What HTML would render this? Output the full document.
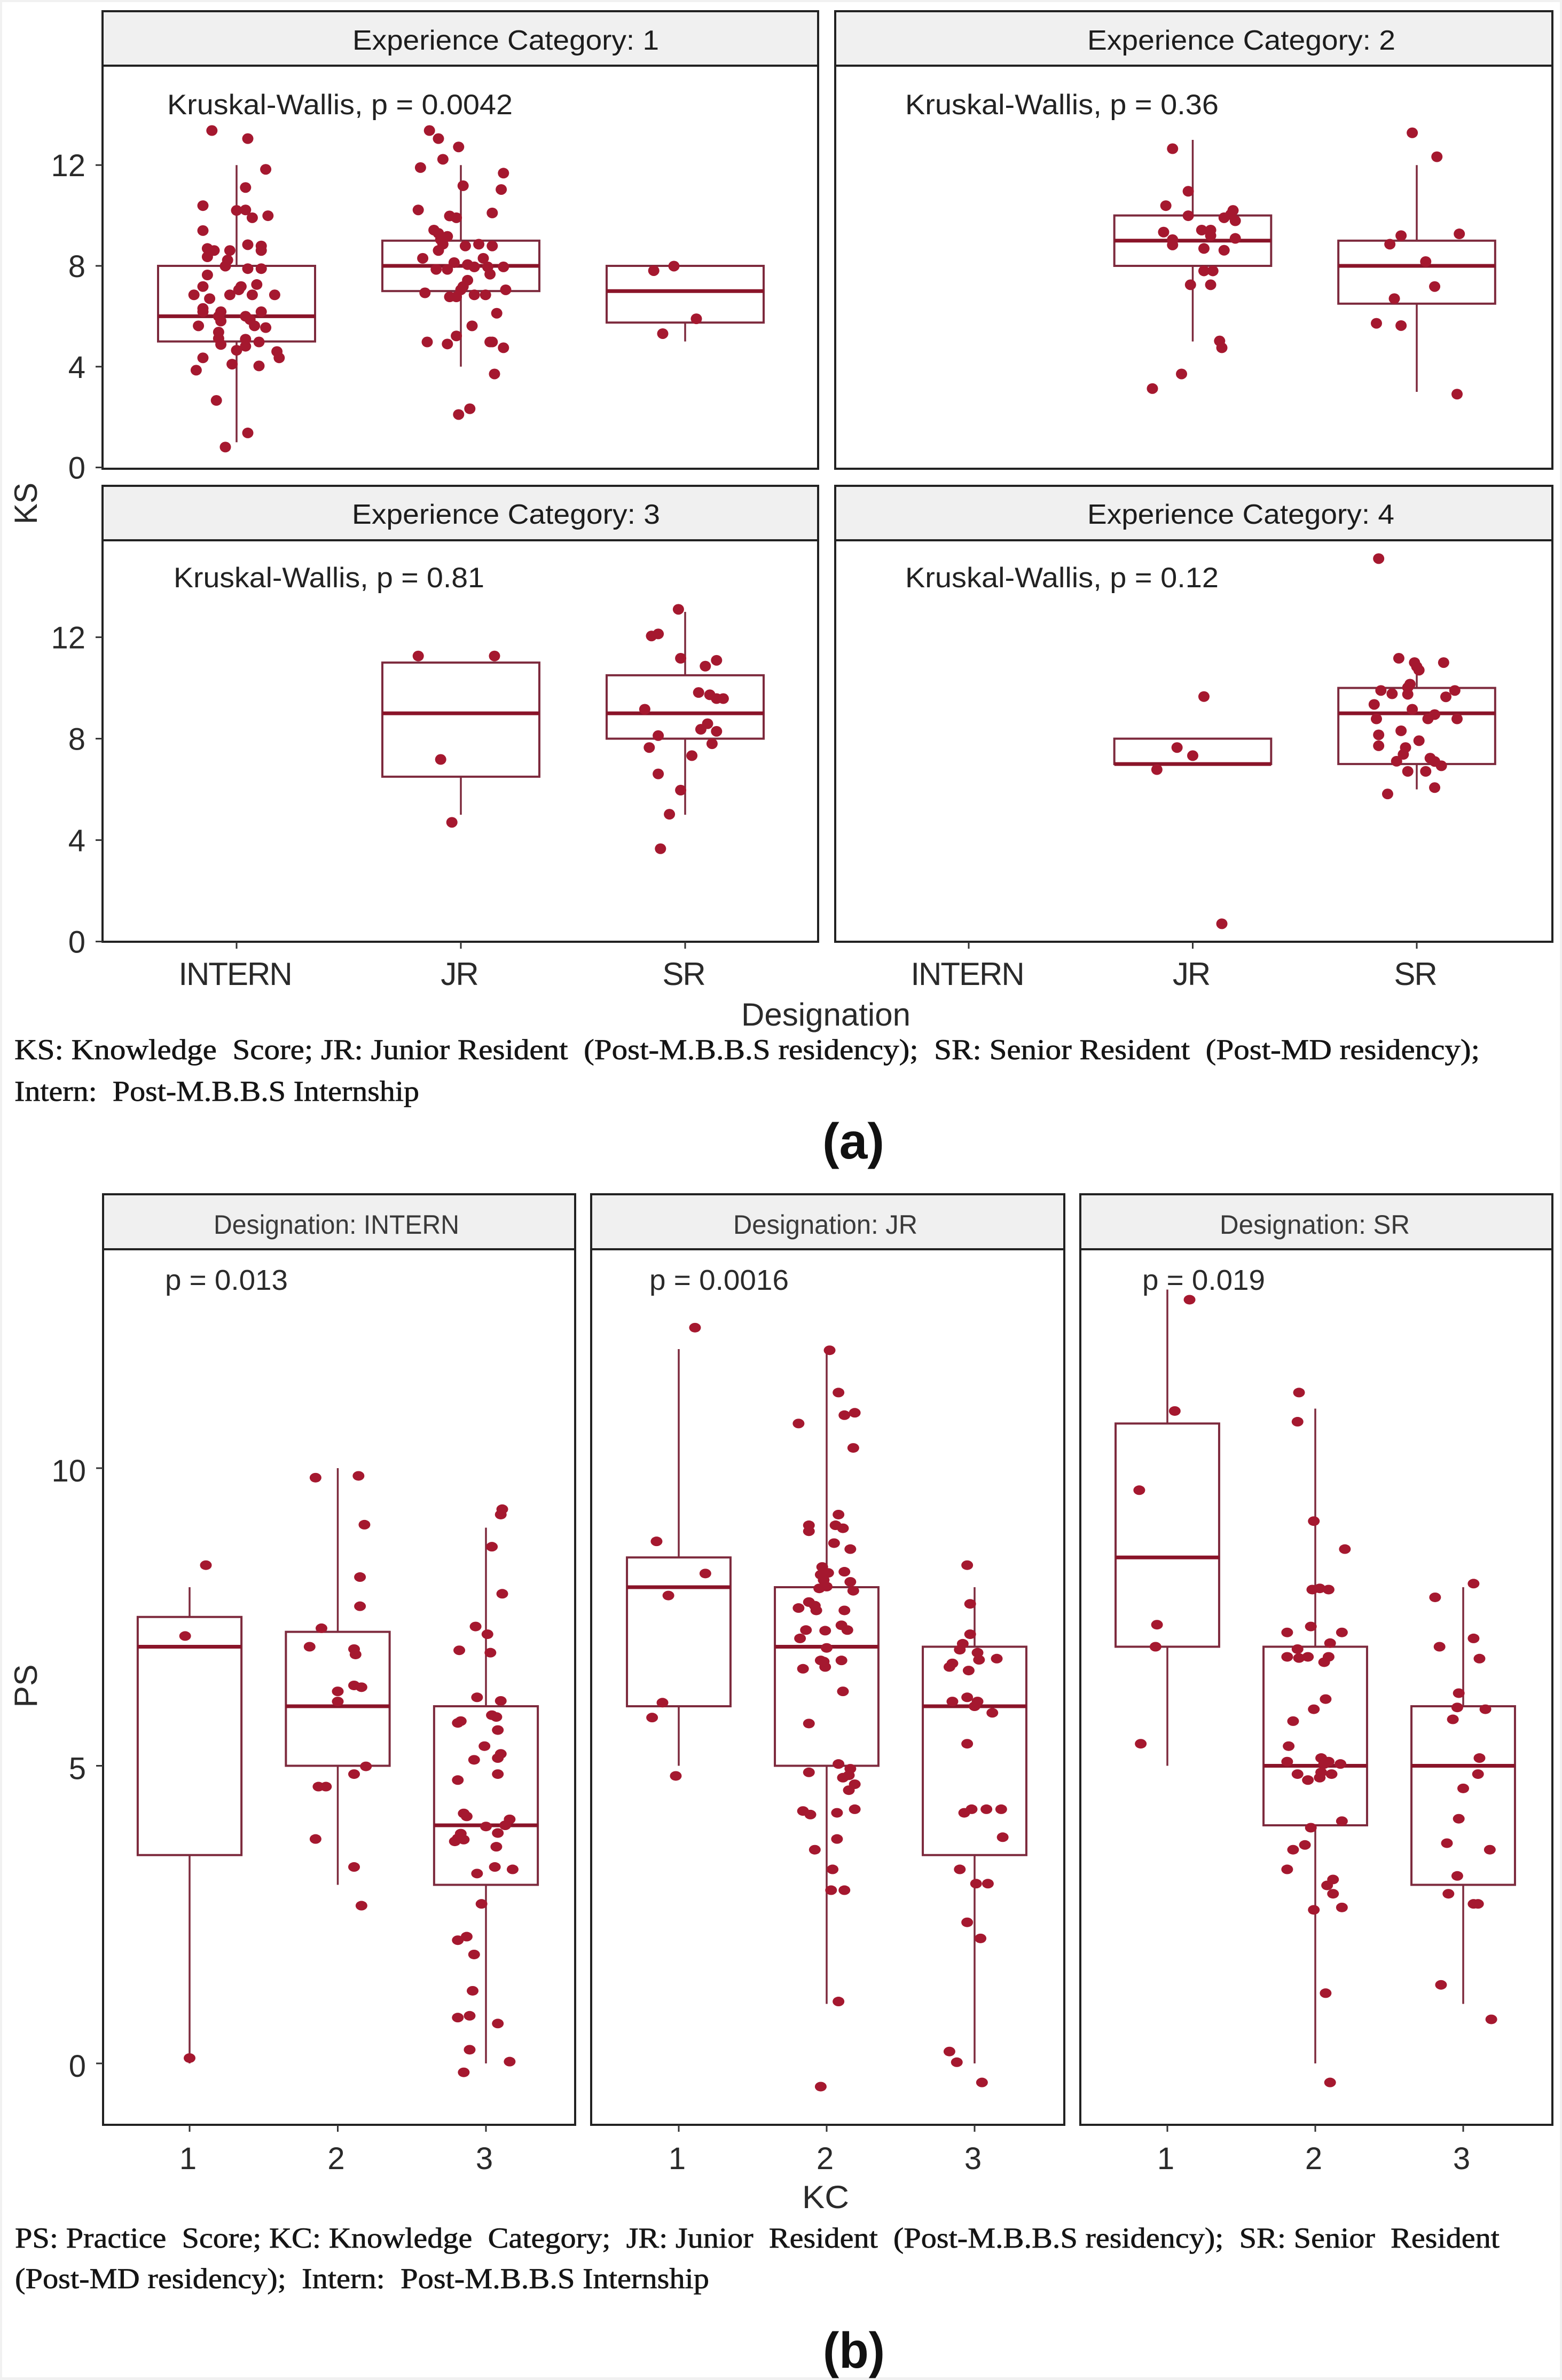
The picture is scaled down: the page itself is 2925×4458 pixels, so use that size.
<!DOCTYPE html>
<html lang="en">
<head>
<meta charset="utf-8">
<title>Knowledge and practice score box plots</title>
<style>
html,body{margin:0;padding:0;background:#fff}
svg{display:block}
text{font-family:"Liberation Sans",sans-serif;fill:#222;white-space:pre}
.strip-a{font-size:52px;fill:#1c1c1c}
.note-a{font-size:53px;fill:#222}
.strip-b{font-size:50px;fill:#3a3a3a}
.note-b{font-size:54px;fill:#2a2a2a}
.axis-title{font-size:60px;fill:#2a2a2a}
.caption{font-family:"Liberation Serif",serif;font-size:54px;fill:#151515;stroke:#151515;stroke-width:.7}
.sub{font-size:95px;font-weight:bold;fill:#111}
.tick-label{font-size:58px;fill:#2a2a2a}
.cat-label{font-size:60px;fill:#2a2a2a;letter-spacing:-2px}
.frame{fill:none;stroke:#222;stroke-width:4}
.strip{fill:#f0f0f0;stroke:#222;stroke-width:4}
</style>
</head>
<body>
<svg id="chart" xmlns="http://www.w3.org/2000/svg" width="2925" height="4458" viewBox="0 0 2925 4458">
  <rect x="0" y="0" width="2925" height="4458" fill="#f1f1f1"/>
  <rect x="4" y="4" width="2917" height="4449" fill="#ffffff"/>

  <g>
    <rect class="frame" x="192" y="123" width="1340" height="755"/>
    <rect class="strip" x="192" y="21" width="1340" height="102"/>
    <rect class="frame" x="1564" y="123" width="1343" height="755"/>
    <rect class="strip" x="1564" y="21" width="1343" height="102"/>
    <rect class="frame" x="192" y="1012" width="1340" height="752"/>
    <rect class="strip" x="192" y="910" width="1340" height="102"/>
    <rect class="frame" x="1564" y="1012" width="1343" height="752"/>
    <rect class="strip" x="1564" y="910" width="1343" height="102"/>
  </g>
  <g>
    <rect class="frame" x="193" y="2340" width="884" height="1640"/>
    <rect class="strip" x="193" y="2237" width="884" height="103"/>
    <rect class="frame" x="1107" y="2340" width="886" height="1640"/>
    <rect class="strip" x="1107" y="2237" width="886" height="103"/>
    <rect class="frame" x="2023" y="2340" width="884" height="1640"/>
    <rect class="strip" x="2023" y="2237" width="884" height="103"/>
  </g>

  <g id="marks"></g>

  <text class="strip-a" x="660" y="93" textLength="574" lengthAdjust="spacingAndGlyphs">Experience Category: 1</text>
  <text class="strip-a" x="2036" y="93" textLength="577" lengthAdjust="spacingAndGlyphs">Experience Category: 2</text>
  <text class="strip-a" x="659" y="981" textLength="577" lengthAdjust="spacingAndGlyphs">Experience Category: 3</text>
  <text class="strip-a" x="2036" y="981" textLength="575" lengthAdjust="spacingAndGlyphs">Experience Category: 4</text>
  <text class="note-a" x="313" y="214" textLength="647" lengthAdjust="spacingAndGlyphs">Kruskal-Wallis, p = 0.0042</text>
  <text class="note-a" x="1695" y="214" textLength="587" lengthAdjust="spacingAndGlyphs">Kruskal-Wallis, p = 0.36</text>
  <text class="note-a" x="325" y="1100" textLength="582" lengthAdjust="spacingAndGlyphs">Kruskal-Wallis, p = 0.81</text>
  <text class="note-a" x="1695" y="1100" textLength="587" lengthAdjust="spacingAndGlyphs">Kruskal-Wallis, p = 0.12</text>

  <text class="axis-title" transform="translate(69,943) rotate(-90)" text-anchor="middle" textLength="78" lengthAdjust="spacingAndGlyphs">KS</text>
  <text class="axis-title" x="1388" y="1921" textLength="317" lengthAdjust="spacingAndGlyphs">Designation</text>
  <text class="caption" x="27" y="1984" textLength="2744" lengthAdjust="spacingAndGlyphs">KS: Knowledge  Score; JR: Junior Resident  (Post-M.B.B.S residency);  SR: Senior Resident  (Post-MD residency);</text>
  <text class="caption" x="27" y="2062" textLength="758" lengthAdjust="spacingAndGlyphs">Intern:  Post-M.B.B.S Internship</text>
  <text class="sub" x="1540" y="2170" textLength="116" lengthAdjust="spacingAndGlyphs">(a)</text>

  <text class="strip-b" x="400" y="2311" textLength="460" lengthAdjust="spacingAndGlyphs">Designation: INTERN</text>
  <text class="strip-b" x="1373" y="2311" textLength="345" lengthAdjust="spacingAndGlyphs">Designation: JR</text>
  <text class="strip-b" x="2284" y="2311" textLength="356" lengthAdjust="spacingAndGlyphs">Designation: SR</text>
  <text class="note-b" x="309" y="2416" textLength="230" lengthAdjust="spacingAndGlyphs">p = 0.013</text>
  <text class="note-b" x="1216" y="2416" textLength="261" lengthAdjust="spacingAndGlyphs">p = 0.0016</text>
  <text class="note-b" x="2139" y="2416" textLength="230" lengthAdjust="spacingAndGlyphs">p = 0.019</text>

  <text class="axis-title" transform="translate(69,3158) rotate(-90)" text-anchor="middle" textLength="81" lengthAdjust="spacingAndGlyphs">PS</text>
  <text class="axis-title" x="1502" y="4136" textLength="88" lengthAdjust="spacingAndGlyphs">KC</text>
  <text class="caption" x="28" y="4210" textLength="2780" lengthAdjust="spacingAndGlyphs">PS: Practice  Score; KC: Knowledge  Category;  JR: Junior  Resident  (Post-M.B.B.S residency);  SR: Senior  Resident</text>
  <text class="caption" x="28" y="4286" textLength="1300" lengthAdjust="spacingAndGlyphs">(Post-MD residency);  Intern:  Post-M.B.B.S Internship</text>
  <text class="sub" x="1541" y="4435" textLength="116" lengthAdjust="spacingAndGlyphs">(b)</text>
</svg>

<script>
// Axis tick values and category labels
const ksTicks = [0, 4, 8, 12];
const psTicks = [0, 5, 10];
const designationLabels = ['INTERN', 'JR', 'SR'];
const kcLabels = ['1', '2', '3'];

// Box statistics: [lower whisker, Q1, median, Q3, upper whisker]
const exp1InternBox = [1, 5, 6, 8, 12];
const exp1JrBox = [4, 7, 8, 9, 12];
const exp1SrBox = [5, 5.75, 7, 8, 8];
const exp2JrBox = [5, 8, 9, 10, 13];
const exp2SrBox = [3, 6.5, 8, 9, 12];
const exp3JrBox = [5, 6.5, 9, 11, 11];
const exp3SrBox = [5, 8, 9, 10.5, 13];
const exp4JrBox = [7, 7, 7, 8, 8];
const exp4SrBox = [6, 7, 9, 10, 10.7];
const internK1Box = [0, 3.5, 7, 7.5, 8];
const internK2Box = [3, 5, 6, 7.25, 10];
const internK3Box = [0, 3, 4, 6, 9];
const jrK1Box = [5, 6, 8, 8.5, 12];
const jrK2Box = [1, 5, 7, 8, 12];
const jrK3Box = [0, 3.5, 6, 7, 8];
const srK1Box = [5, 7, 8.5, 10.75, 13];
const srK2Box = [0, 4, 5, 7, 11];
const srK3Box = [1, 3, 5, 6, 8];

// Observations: [horizontal jitter in category units, score]
const exp1InternPoints = [[-.11,13.37],[.05,13.05],[.13,11.83],[.04,11.11],[-.15,10.39],[0,10.2],[.04,10.22],[.07,9.91],[.14,9.99],[-.15,9.4],[.05,8.84],[.11,8.79],[.11,8.61],[-.13,8.69],[-.1,8.61],[-.03,8.61],[-.13,8.36],[-.04,8.23],[-.05,7.99],[.05,7.89],[.11,7.89],[-.13,7.64],[-.15,7.18],[.09,7.26],[.02,7.18],[.01,7.05],[-.03,6.85],[-.19,6.85],[.07,6.85],[.17,6.85],[-.12,6.7],[-.15,6.31],[-.15,6.18],[-.07,6.18],[.11,6.18],[-.08,6],[.04,6],[.06,5.87],[-.07,5.81],[-.17,5.62],[.08,5.62],[.13,5.55],[-.08,5.37],[-.08,5.12],[.04,5.09],[.1,4.98],[-.07,4.88],[.04,4.81],[0,4.65],[.18,4.6],[.19,4.35],[-.15,4.35],[-.02,4.1],[.1,4.03],[-.18,3.86],[-.09,2.66],[.05,1.37],[-.05,.81]];
const exp1JrPoints = [[-.14,13.37],[-.1,13.05],[-.01,12.72],[-.08,12.23],[-.18,11.9],[.19,11.68],[.01,11.18],[.18,11.03],[-.19,10.22],[.14,10.1],[-.05,9.98],[-.02,9.91],[-.12,9.42],[-.1,9.29],[-.06,9.17],[-.09,9.04],[-.08,8.86],[.02,8.79],[.08,8.86],[.14,8.79],[-.1,8.61],[-.17,8.3],[.1,8.3],[-.03,8.13],[.03,8.05],[.06,7.96],[.12,7.96],[.19,7.96],[-.11,7.86],[-.06,7.86],[.13,7.67],[.03,7.43],[.01,7.18],[0,7.05],[.2,7.05],[-.16,6.93],[.06,6.85],[.11,6.85],[-.05,6.77],[-.02,6.77],[.16,6.12],[.05,5.62],[-.02,5.22],[-.15,4.98],[-.06,4.9],[.13,4.98],[.14,4.98],[.19,4.75],[.15,3.71],[.04,2.33],[-.01,2.1]];
const exp1SrPoints = [[-.14,7.81],[-.05,7.99],[.05,5.9],[-.1,5.31]];
const exp2JrPoints = [[-.09,12.65],[-.02,10.96],[-.12,10.39],[-.02,9.99],[.18,10.2],[.17,10.04],[.14,9.91],[.19,9.79],[-.13,9.34],[.04,9.42],[.08,9.42],[.08,9.2],[-.09,9.04],[.19,9.09],[-.09,8.83],[.05,8.69],[.14,8.62],[.05,7.8],[.09,7.8],[-.01,7.25],[.08,7.25],[.12,5.02],[.13,4.75],[-.05,3.71],[-.18,3.13]];
const exp2SrPoints = [[-.02,13.28],[.09,12.33],[-.07,9.2],[.19,9.27],[-.12,8.86],[.04,8.17],[.08,7.18],[-.1,6.7],[-.18,5.72],[-.07,5.63],[.18,2.91]];
const exp3JrPoints = [[-.19,11.26],[.15,11.26],[-.09,7.18],[-.04,4.7]];
const exp3SrPoints = [[-.03,13.1],[-.15,12.05],[-.12,12.13],[-.02,11.17],[.14,11.09],[.09,10.86],[.06,9.82],[.11,9.73],[.14,9.58],[.17,9.58],[-.18,9.16],[.1,8.59],[.07,8.37],[.14,8.29],[-.12,8.12],[-.16,7.65],[.12,7.8],[.03,7.33],[-.12,6.61],[-.02,5.97],[-.07,5.02],[-.11,3.66]];
const exp4JrPoints = [[.05,9.66],[-.07,7.65],[0,7.33],[-.16,6.78],[.13,.7]];
const exp4SrPoints = [[-.17,15.1],[-.08,11.17],[.12,11],[-.01,11],[0,10.84],[.01,10.7],[-.03,10.15],[-.04,10.02],[-.04,9.75],[-.16,9.9],[-.11,9.77],[.17,9.9],[.13,9.65],[-.19,9.35],[-.02,9.16],[.08,8.95],[.05,8.78],[-.18,8.78],[.18,8.78],[-.07,8.31],[-.17,8.15],[-.17,7.72],[.01,7.92],[-.05,7.65],[-.06,7.38],[-.09,7.11],[.06,7.23],[.08,7.1],[.11,6.93],[-.04,6.71],[.04,6.71],[.08,6.07],[-.13,5.82]];
const internK1Points = [[.11,8.37],[-.03,7.18],[0,.09]];
const internK2Points = [[-.15,9.84],[.14,9.87],[.18,9.05],[.15,8.17],[.15,7.68],[-.11,7.31],[-.19,7],[.11,6.96],[.12,6.87],[0,6.25],[.11,6.35],[.16,6.32],[0,6.08],[.19,4.99],[.11,4.86],[-.13,4.65],[-.08,4.65],[-.15,3.77],[.11,3.3],[.16,2.65]];
const internK3Points = [[.11,9.31],[.1,9.22],[.04,8.68],[.11,7.89],[-.07,7.34],[.01,7.21],[-.18,6.94],[.03,6.9],[-.06,6.15],[.1,6.09],[.04,5.85],[.07,5.82],[-.17,5.75],[-.19,5.72],[.08,5.6],[-.01,5.33],[.1,5.2],[.08,5.13],[-.08,5.1],[.08,4.86],[-.19,4.76],[-.15,4.2],[-.13,4.15],[.16,4.1],[.13,4],[0,3.98],[.08,3.87],[-.17,3.86],[-.19,3.78],[-.15,3.76],[-.21,3.73],[.07,3.64],[.06,3.3],[.18,3.26],[-.06,3.19],[-.03,2.68],[-.19,2.07],[-.13,2.13],[-.08,1.83],[-.09,1.22],[-.19,.77],[-.11,.8],[.08,.67],[-.11,.23],[.16,.03],[-.15,-.15]];
const jrK1Points = [[.11,12.36],[-.15,8.77],[.18,8.23],[-.07,7.86],[-.11,6.06],[-.18,5.81],[-.02,4.83]];
const jrK2Points = [[.02,11.98],[.08,11.27],[-.19,10.75],[.12,10.89],[.19,10.93],[.18,10.34],[.08,9.22],[-.12,9.04],[-.12,8.94],[.06,9.04],[.11,8.99],[.05,8.74],[.16,8.64],[-.03,8.34],[.01,8.24],[-.04,8.21],[.12,8.26],[-.02,8.12],[.16,8.09],[0,8.01],[-.05,7.98],[.18,7.94],[-.12,7.75],[-.19,7.65],[-.08,7.69],[-.07,7.61],[.12,7.61],[.1,7.36],[.14,7.28],[-.14,7.28],[-.01,7.27],[-.18,7.14],[0,6.98],[-.04,6.77],[-.02,6.75],[-.01,6.66],[.1,6.77],[-.16,6.63],[.11,6.25],[-.12,5.71],[.08,5.03],[.16,4.95],[-.12,4.89],[.15,4.84],[.11,4.8],[.19,4.69],[.15,4.59],[.19,4.27],[-.16,4.24],[-.11,4.18],[.07,4.21],[.07,3.77],[-.08,3.59],[.04,3.26],[.03,2.91],[.12,2.91],[.08,1.04],[-.04,-.39]];
const jrK3Points = [[-.05,8.37],[-.03,7.72],[-.03,7.21],[-.08,7.05],[-.1,6.95],[.02,6.9],[.03,6.78],[.15,6.8],[-.15,6.72],[-.17,6.66],[-.04,6.6],[-.15,6.08],[-.05,6.15],[.02,6.08],[0,6],[.12,5.89],[-.05,5.37],[-.02,4.27],[-.07,4.21],[.08,4.27],[.18,4.27],[.19,3.8],[-.1,3.26],[.01,3.02],[.09,3.02],[-.05,2.37],[.04,2.1],[-.17,.2],[-.12,.02],[.05,-.32]];
const srK1Points = [[.15,12.83],[.05,10.96],[-.19,9.63],[-.07,7.37],[-.08,7],[-.18,5.37]];
const srK2Points = [[-.11,11.27],[-.12,10.78],[-.01,9.11],[.2,8.64],[-.02,7.96],[.03,7.98],[.09,7.96],[-.03,7.34],[-.19,7.24],[.18,7.24],[.1,7.06],[-.12,6.96],[-.19,6.83],[-.11,6.81],[-.05,6.83],[.09,6.83],[.06,6.74],[.07,6.12],[-.01,5.95],[-.15,5.75],[-.18,5.33],[-.19,5.07],[.04,5.13],[.09,5.07],[.17,5.03],[.06,5.03],[.04,4.89],[.11,4.86],[-.12,4.86],[.03,4.8],[-.05,4.76],[-.03,3.96],[.18,4.07],[-.07,3.67],[-.15,3.59],[-.19,3.26],[.12,3.09],[.08,2.99],[.12,2.85],[.18,2.62],[-.01,2.58],[.07,1.18],[.1,-.32]];
const srK3Points = [[.07,8.06],[-.19,7.83],[.07,7.14],[-.16,7],[.11,6.8],[-.03,6.22],[-.04,5.98],[.15,5.95],[-.07,5.78],[.11,5.13],[.1,4.86],[0,4.62],[-.03,4.11],[-.11,3.7],[.18,3.59],[-.04,3.15],[-.1,2.85],[.07,2.68],[.1,2.68],[-.15,1.32],[.19,.74]];

const SVGNS = 'http://www.w3.org/2000/svg';
const marksRoot = document.getElementById('marks');
const BOX_COLOR = '#7d2a3d';
const MEDIAN_COLOR = '#8a1429';
const POINT_COLOR = '#a5182f';
const CAT_WIDTH = 0.7;

function make(tag, attrs, parent) {
  const node = document.createElementNS(SVGNS, tag);
  for (const key in attrs) node.setAttribute(key, attrs[key]);
  parent.appendChild(node);
  return node;
}

// Axis functions
function xScale(panel, catIndex) { return panel.first + catIndex * panel.step; }
function yScale(panel, value) { return panel.zero - value * panel.unit; }

function drawBox(panel, catIndex, stats, parent) {
  const cx = xScale(panel, catIndex);
  const half = panel.step * CAT_WIDTH / 2;
  const low = stats[0], q1 = stats[1], med = stats[2], q3 = stats[3], high = stats[4];
  const upper = make('line', {x1: cx, x2: cx, y1: yScale(panel, q3), y2: yScale(panel, high), stroke: BOX_COLOR, 'stroke-width': 3.5}, parent);
  
  
  const lower = make('line', {x1: cx, x2: cx, y1: yScale(panel, q1), y2: yScale(panel, low), stroke: BOX_COLOR, 'stroke-width': 3.5}, parent);
  
  
  const box = make('rect', {x: cx - half, y: yScale(panel, q3), width: half * 2, height: yScale(panel, q1) - yScale(panel, q3), fill: 'none', stroke: BOX_COLOR, 'stroke-width': 4}, parent);
  
  
  const median = make('line', {x1: cx - half, x2: cx + half, y1: yScale(panel, med), y2: yScale(panel, med), stroke: MEDIAN_COLOR, 'stroke-width': 7}, parent);
  
  
}

function drawPoints(panel, catIndex, points, parent) {
  const cx = xScale(panel, catIndex);
  points.forEach(function (p) {
    const dot = make('ellipse', {cx: cx + p[0] * panel.step, cy: yScale(panel, p[1]), rx: panel.rx, ry: panel.ry, fill: POINT_COLOR}, parent);
    
    
  });
}

function drawYAxis(panel, ticks) {
  ticks.forEach(function (t) {
    const y = yScale(panel, t);
    const tick = make('line', {x1: panel.left - 13, x2: panel.left, y1: y, y2: y, stroke: '#333', 'stroke-width': 3}, marksRoot);
    
    
    const label = make('text', {x: panel.left - 32, y: y + panel.labelDy, 'text-anchor': 'end', class: 'tick-label'}, marksRoot);
    label.textContent = String(t);
    
    
  });
}

function drawXAxis(panel, labels, cssClass, labelY) {
  labels.forEach(function (name, i) {
    const x = xScale(panel, i);
    const tick = make('line', {x1: x, x2: x, y1: panel.bottom, y2: panel.bottom + 13, stroke: '#333', 'stroke-width': 3}, marksRoot);
    
    
    const label = make('text', {x: x - 3, y: labelY, 'text-anchor': 'middle', class: cssClass}, marksRoot);
    label.textContent = name;
    
    
  });
}

function drawPanel(panel, boxes, pointSets) {
  const group = make('g', {}, marksRoot);
  
  
  boxes.forEach(function (entry) { drawBox(panel, entry[0], entry[1], group); });
  pointSets.forEach(function (entry) { drawPoints(panel, entry[0], entry[1], group); });
}

const panelExp1 = {first: 443, step: 420, zero: 875.6, unit: 47.2, left: 192, bottom: 878, rx: 10.5, ry: 10, labelDy: 21};
const panelExp2 = {first: 1814, step: 419.5, zero: 875.6, unit: 47.2, left: 1564, bottom: 878, rx: 10.5, ry: 10, labelDy: 21};
const panelExp3 = {first: 443, step: 420, zero: 1763.6, unit: 47.5, left: 192, bottom: 1764, rx: 10.5, ry: 10, labelDy: 21};
const panelExp4 = {first: 1814, step: 419.5, zero: 1763.6, unit: 47.5, left: 1564, bottom: 1764, rx: 10.5, ry: 10, labelDy: 21};
const panelIntern = {first: 355, step: 277.5, zero: 3865, unit: 111.5, left: 193, bottom: 3980, rx: 11, ry: 9, labelDy: 25};
const panelJr = {first: 1271, step: 277, zero: 3865, unit: 111.5, left: 1107, bottom: 3980, rx: 11, ry: 9, labelDy: 25};
const panelSr = {first: 2186, step: 277, zero: 3865, unit: 111.5, left: 2023, bottom: 3980, rx: 11, ry: 9, labelDy: 25};

drawPanel(panelExp1, [[0, exp1InternBox], [1, exp1JrBox], [2, exp1SrBox]], [[0, exp1InternPoints], [1, exp1JrPoints], [2, exp1SrPoints]]);
drawPanel(panelExp2, [[1, exp2JrBox], [2, exp2SrBox]], [[1, exp2JrPoints], [2, exp2SrPoints]]);
drawPanel(panelExp3, [[1, exp3JrBox], [2, exp3SrBox]], [[1, exp3JrPoints], [2, exp3SrPoints]]);
drawPanel(panelExp4, [[1, exp4JrBox], [2, exp4SrBox]], [[1, exp4JrPoints], [2, exp4SrPoints]]);
drawPanel(panelIntern, [[0, internK1Box], [1, internK2Box], [2, internK3Box]], [[0, internK1Points], [1, internK2Points], [2, internK3Points]]);
drawPanel(panelJr, [[0, jrK1Box], [1, jrK2Box], [2, jrK3Box]], [[0, jrK1Points], [1, jrK2Points], [2, jrK3Points]]);
drawPanel(panelSr, [[0, srK1Box], [1, srK2Box], [2, srK3Box]], [[0, srK1Points], [1, srK2Points], [2, srK3Points]]);

drawYAxis(panelExp1, ksTicks);
drawYAxis(panelExp3, ksTicks);
drawYAxis(panelIntern, psTicks);
drawXAxis(panelExp3, designationLabels, 'cat-label', 1845);
drawXAxis(panelExp4, designationLabels, 'cat-label', 1845);
drawXAxis(panelIntern, kcLabels, 'tick-label', 4063);
drawXAxis(panelJr, kcLabels, 'tick-label', 4063);
drawXAxis(panelSr, kcLabels, 'tick-label', 4063);
</script>
</body>
</html>
